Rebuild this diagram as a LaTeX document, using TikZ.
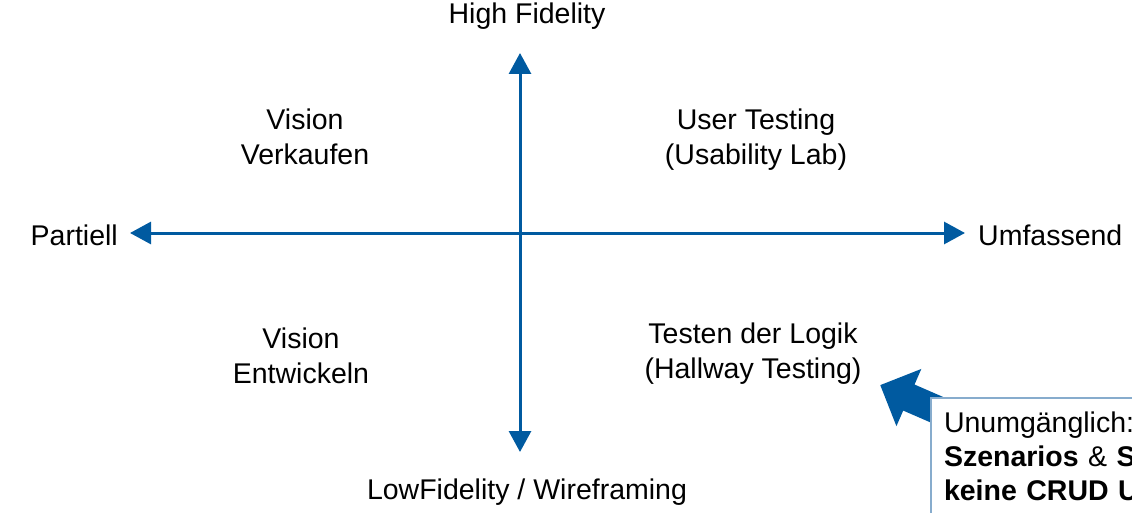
\documentclass[tikz,border=0pt]{standalone}
\usepackage{fontspec}
\setmainfont{Liberation Sans}
\usetikzlibrary{arrows.meta,shapes.arrows}
\definecolor{achsblau}{RGB}{0,90,160}
\definecolor{rahmenblau}{RGB}{135,172,205}
\tikzset{
  achse/.style={achsblau, line width=3pt,
    {Triangle[length=21pt,width=22pt]}-{Triangle[length=21pt,width=22pt]}},
  etikett/.style={inner sep=0pt, anchor=base, font=\fontsize{28.5}{35}\selectfont},
  hinweis/.style={draw=rahmenblau, line width=2pt, fill=white, anchor=north west,
    text width=300pt, align=left, inner xsep=13pt, inner ysep=14pt,
    font=\fontsize{28.5}{34}\selectfont},
  blockpfeil/.style={single arrow, fill=achsblau, draw=none, inner xsep=0pt, inner ysep=14pt,
    single arrow head extend=17pt, minimum height=64pt}
}
\begin{document}
\begin{tikzpicture}[x=1pt,y=-1pt]
    \useasboundingbox (0,0) rectangle (1132,513);
    \clip (0,0) rectangle (1132,513);

    % Achsen
    \coordinate (links) at (130,233);
    \coordinate (rechts) at (965,233);
    \coordinate (oben) at (520,53);
    \coordinate (unten) at (520,452);
    \draw[achse] (links) -- (rechts);
    \draw[achse] (unten) -- (oben);

    % Achsenbeschriftung
    \node[etikett] (high) at (527,24) {High Fidelity};
    \node[etikett] (low) at (527,499) {LowFidelity / Wireframing};
    \node[etikett, anchor=base east] (partiell) at (118,245) {Partiell};
    \node[etikett, anchor=base west] (umfassend) at (978,245) {Umfassend};

    % Quadranten (Basis = letzte Zeile)
    \node[etikett, align=center] (verkaufen) at (305,165) {Vision\\Verkaufen};
    \node[etikett, align=center] (usertest) at (756,165) {User Testing\\(Usability Lab)};
    \node[etikett, align=center] (entwickeln) at (301,383) {Vision\\Entwickeln};
    \node[etikett, align=center] (logik) at (753,378) {Testen der Logik\\(Hallway Testing)};

    % Hinweis mit Pfeil
    \coordinate (spitze) at (880,385);
    \node[blockpfeil, rotate=156.5, anchor=tip] (pfeil) at (spitze) {};
    \node[hinweis] (kasten) at (930,397)
      {Unumg\"anglich:\\\textbf{Szenarios} \& \textbf{S}\\\textbf{keine CRUD U}};
\end{tikzpicture}
\end{document}
